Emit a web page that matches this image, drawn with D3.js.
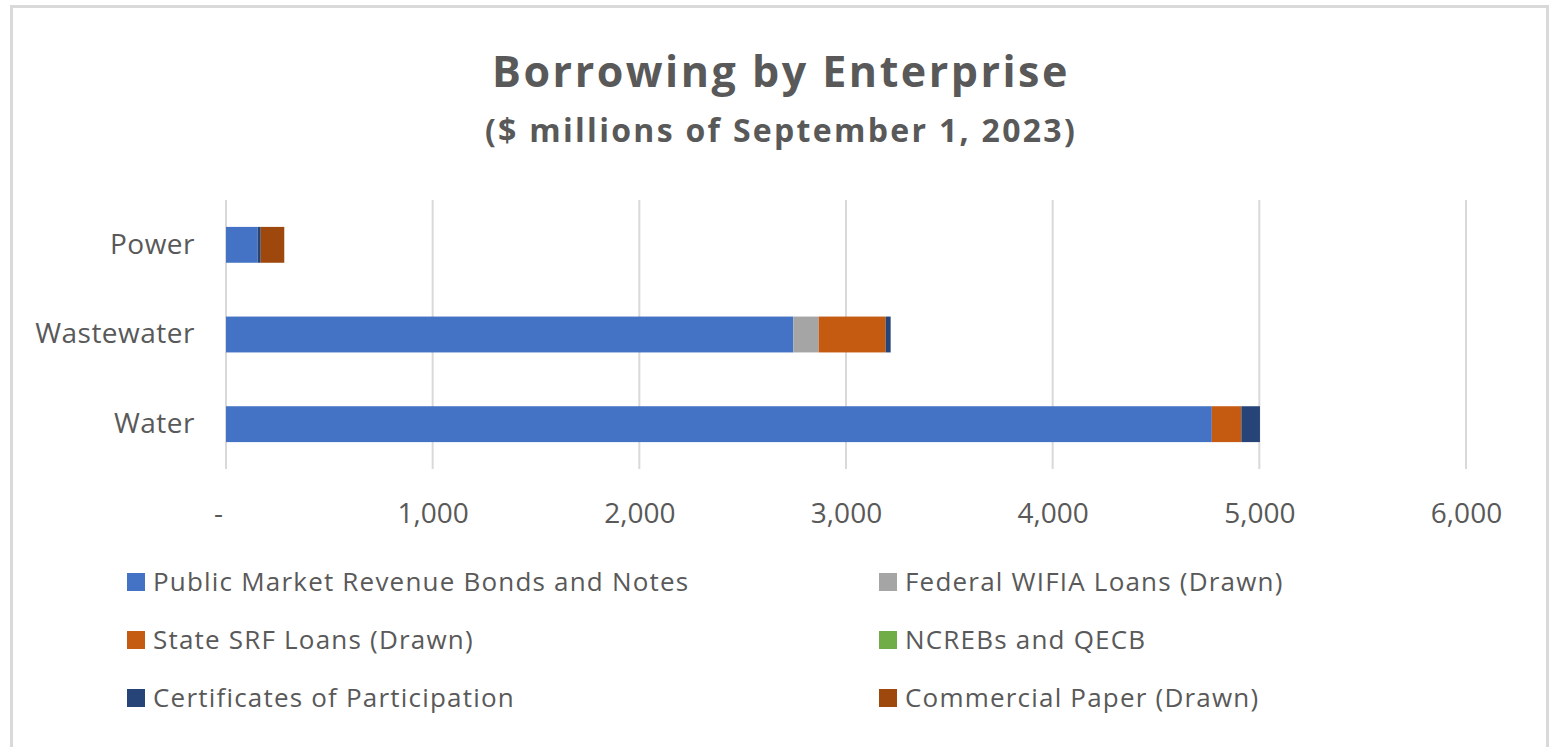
<!DOCTYPE html>
<html>
<head>
<meta charset="utf-8">
<script src="https://cdn.jsdelivr.net/npm/d3@7"></script>
<style>
  body { margin: 0; background: #fff; }
  text { font-family: "Open Sans", sans-serif; fill: #595959; }
</style>
</head>
<body>
<div id="vis"></div>
<script>
const FRAME_WIDTH = 1552;
const FRAME_HEIGHT = 747;
const MARGINS = {left: 226, right: 86, top: 200, bottom: 278};

// data ($ millions)
const categories = ['Power', 'Wastewater', 'Water'];
const seriesNames = ['Public Market Revenue Bonds and Notes', 'Federal WIFIA Loans (Drawn)',
                     'State SRF Loans (Drawn)', 'NCREBs and QECB',
                     'Certificates of Participation', 'Commercial Paper (Drawn)'];
const seriesColors = ['#4472c4', '#a5a5a5', '#c55a11', '#70ad47', '#264478', '#9e480e'];
const publicBonds = [153, 2745, 4770];
const wifia = [0, 123, 0];
const srf = [0, 324, 143];
const ncreb = [0, 0, 0];
const cop = [15, 24, 90];
const commercialPaper = [114, 0, 0];
const xTicks = [0, 1000, 2000, 3000, 4000, 5000, 6000];

const VIS_WIDTH = FRAME_WIDTH - MARGINS.left - MARGINS.right;
const VIS_HEIGHT = FRAME_HEIGHT - MARGINS.top - MARGINS.bottom;

const FRAME = d3.select('#vis')
    .append('svg')
        .attr('width', FRAME_WIDTH)
        .attr('height', FRAME_HEIGHT);

// chart border
FRAME.append('rect')
    .attr('x', 11.5).attr('y', 6.5)
    .attr('width', 1536).attr('height', 760)
    .attr('fill', 'none')
    .attr('stroke', '#d9d9d9')
    .attr('stroke-width', 3);

// titles
FRAME.append('text')
    .attr('x', 781).attr('y', 87)
    .attr('text-anchor', 'middle')
    .attr('font-size', '43px')
    .attr('font-weight', 'bold')
    .attr('letter-spacing', '2.5px')
    .text('Borrowing by Enterprise');

FRAME.append('text')
    .attr('x', 781).attr('y', 142)
    .attr('text-anchor', 'middle')
    .attr('font-size', '32px')
    .attr('font-weight', 'bold')
    .attr('letter-spacing', '2.3px')
    .text('($ millions of September 1, 2023)');

// table for stacking
const columns = [publicBonds, wifia, srf, ncreb, cop, commercialPaper];
const table = categories.map((c, i) => {
    const row = {cat: c};
    seriesNames.forEach((s, j) => { row[s] = columns[j][i]; });
    return row;
});
const stacked = d3.stack().keys(seriesNames)(table);

const X_SCALE = d3.scaleLinear()
    .domain([0, 6000])
    .range([0, VIS_WIDTH]);

const Y_SCALE = d3.scaleBand()
    .domain(categories)
    .range([0, VIS_HEIGHT])
    .paddingInner(0.6)
    .paddingOuter(0.3);

const G = FRAME.append('g')
    .attr('transform', 'translate(' + MARGINS.left + ',' + MARGINS.top + ')');

// gridlines
G.selectAll('.grid')
    .data(xTicks)
    .enter()
    .append('line')
        .attr('x1', d => X_SCALE(d))
        .attr('x2', d => X_SCALE(d))
        .attr('y1', 0)
        .attr('y2', VIS_HEIGHT)
        .attr('stroke', '#d9d9d9')
        .attr('stroke-width', 2);

// bars
G.selectAll('.series')
    .data(stacked)
    .enter()
    .append('g')
        .attr('fill', (d, i) => seriesColors[i])
    .selectAll('rect')
    .data(d => d)
    .enter()
    .append('rect')
        .attr('x', d => X_SCALE(d[0]))
        .attr('y', d => Y_SCALE(d.data.cat))
        .attr('width', d => X_SCALE(d[1]) - X_SCALE(d[0]))
        .attr('height', Y_SCALE.bandwidth());

// x axis labels
const xAxis = G.append('g')
    .attr('transform', 'translate(0,' + VIS_HEIGHT + ')')
    .call(d3.axisBottom(X_SCALE)
        .tickValues(xTicks)
        .tickSize(0)
        .tickPadding(34)
        .tickFormat(d => d === 0 ? '-' : d3.format(',')(d)));
xAxis.select('.domain').remove();
xAxis.selectAll('text')
    .attr('font-size', '28px')
    .attr('font-family', '"Open Sans", sans-serif')
    .attr('fill', '#595959');
xAxis.selectAll('.tick')
    .filter(d => d === 0)
    .select('text')
    .attr('dx', '-8');

// y axis labels
const yAxis = G.append('g')
    .call(d3.axisLeft(Y_SCALE).tickSize(0).tickPadding(31));
yAxis.select('.domain').remove();
yAxis.selectAll('text')
    .attr('font-size', '28px')
    .attr('letter-spacing', '0.5px')
    .attr('font-family', '"Open Sans", sans-serif')
    .attr('fill', '#595959');

// legend
const legendX = [127, 879];
const legendY = [582, 640, 698];
const legend = FRAME.selectAll('.legend')
    .data(seriesNames)
    .enter()
    .append('g')
        .attr('transform', (d, i) => 'translate(' + legendX[i % 2] + ',' + legendY[Math.floor(i / 2)] + ')');

legend.append('rect')
    .attr('x', 0).attr('y', -9)
    .attr('width', 18).attr('height', 18)
    .attr('fill', (d, i) => seriesColors[i]);

legend.append('text')
    .attr('x', 26).attr('y', 0)
    .attr('dy', '0.35em')
    .attr('font-size', '26px')
    .attr('letter-spacing', '1.2px')
    .text(d => d);
</script>
</body>
</html>
